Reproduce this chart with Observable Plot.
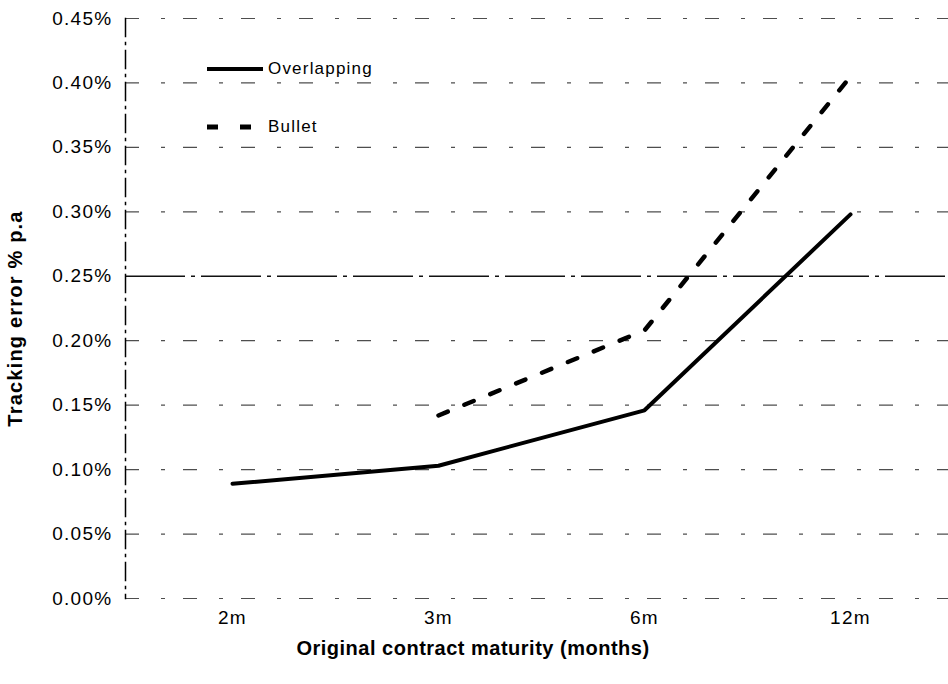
<!DOCTYPE html>
<html>
<head>
<meta charset="utf-8">
<script src="https://cdn.jsdelivr.net/npm/d3@7"></script>
<script src="https://cdn.jsdelivr.net/npm/@observablehq/plot@0.6"></script>
<style>
  html, body { margin: 0; padding: 0; background: #fff; }
  #wrap { position: relative; width: 948px; height: 684px; font-family: "Liberation Sans", Arial, sans-serif; }
  #legend { position: absolute; left: 206px; top: 58px; font-size: 17px; letter-spacing: 1.2px; color: #000; }
  .item { display: flex; align-items: center; height: 22px; }
  .item svg { margin-right: 4px; }
</style>
</head>
<body>
<div id="wrap">
  <div id="chart"></div>
  <div id="legend"></div>
</div>
<script>
const maturities = ["2m", "3m", "6m", "12m"];
const overlapping = [0.089, 0.103, 0.146, 0.298];
const bulletMaturities = ["3m", "6m", "12m"];
const bullet = [0.142, 0.208, 0.405];
const yTicks = [0, 0.05, 0.10, 0.15, 0.20, 0.25, 0.30, 0.35, 0.40, 0.45];
const seriesNames = ["Overlapping", "Bullet"];
const yTitle = "Tracking error % p.a";
const xTitle = "Original contract maturity (months)";

const overData = maturities.map((m, i) => ({m, v: overlapping[i]}));
const bulletData = bulletMaturities.map((m, i) => ({m, v: bullet[i]}));

const chart = Plot.plot({
  width: 948,
  height: 684,
  marginLeft: 125,
  marginRight: 0,
  marginTop: 18,
  marginBottom: 86,
  style: {fontFamily: "Liberation Sans, Arial, sans-serif", fontSize: "19px", color: "#000", background: "#fff"},
  x: {type: "point", domain: maturities, range: [232, 850], padding: 0, label: null},
  y: {domain: [0, 0.45], range: [598, 18], label: null},
  marks: [
    Plot.ruleY(yTicks.filter(d => d !== 0.25), {stroke: "#222", strokeWidth: 1.2, strokeDasharray: "14,22,4,18", strokeOpacity: 0.8}),
    Plot.ruleY([0.25], {stroke: "#111", strokeWidth: 1.6, strokeDasharray: "60,6,4,6"}),
    Plot.frame({anchor: "left", stroke: "#000", strokeWidth: 1.5, strokeDasharray: "18,6,2,6"}),
    Plot.axisY({ticks: yTicks, tickSize: 0, tickPadding: 13, tickFormat: d => d.toFixed(2) + "%", fontSize: 19}),
    Plot.axisX({tickSize: 0, tickPadding: 12, fontSize: 19}),
    Plot.text([yTitle], {frameAnchor: "left", textAnchor: "middle", dx: -110, dy: 10, rotate: -90, fontSize: 20, fontWeight: "bold"}),
    Plot.text([xTitle], {frameAnchor: "bottom", dy: 56, dx: -64, fontSize: 20, fontWeight: "bold"}),
    Plot.line(overData, {x: "m", y: "v", stroke: "#000", strokeWidth: 4}),
    Plot.line(bulletData, {x: "m", y: "v", stroke: "#000", strokeWidth: 4.5, strokeDasharray: "10,18"})
  ]
});
document.getElementById("chart").appendChild(chart);

d3.select(chart).selectAll("text").each(function() {
  const t = this.textContent;
  if (t === yTitle) this.setAttribute("letter-spacing", "1.2px");
  else if (t === xTitle) this.setAttribute("letter-spacing", "0.5px");
  else this.setAttribute("letter-spacing", "1.3px");
});

const legend = document.getElementById("legend");
legend.innerHTML = `
  <div class="item" style="margin-bottom:36px">
    <svg width="58" height="10"><line x1="1" x2="57" y1="5" y2="5" stroke="#000" stroke-width="4"/></svg>
    <span>${seriesNames[0]}</span>
  </div>
  <div class="item">
    <svg width="58" height="10"><line x1="1" x2="57" y1="5" y2="5" stroke="#000" stroke-width="5" stroke-dasharray="11,22"/></svg>
    <span>${seriesNames[1]}</span>
  </div>`;
</script>
</body>
</html>
